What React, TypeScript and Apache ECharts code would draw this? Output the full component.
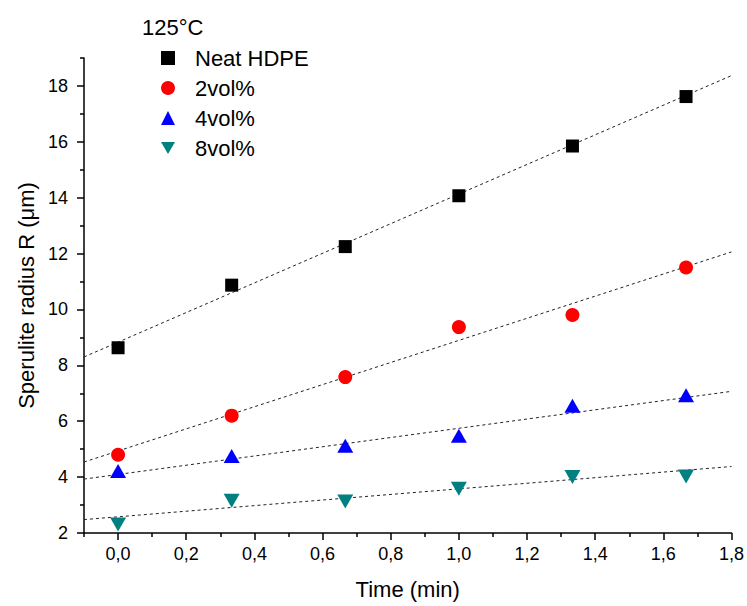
import React, { useEffect, useRef } from "react";
import * as echarts from "echarts";

const timeMin = [0, 1 / 3, 2 / 3, 1, 4 / 3, 5 / 3];
const seriesNames = ["Neat HDPE", "2vol%", "4vol%", "8vol%"];
const neatHDPE = [8.63, 10.87, 12.25, 14.07, 15.85, 17.62];
const vol2 = [4.8, 6.2, 7.58, 9.37, 9.8, 11.5];
const vol4 = [4.22, 4.76, 5.12, 5.48, 6.55, 6.93];
const vol8 = [2.3, 3.15, 3.13, 3.58, 4.0, 4.02];
// fitted lines read at x = -0.1 and x = 1.8
const fitX = [-0.1, 1.8];
const fitNeat = [8.3, 18.37];
const fit2 = [4.54, 12.06];
const fit4 = [3.93, 7.07];
const fit8 = [2.48, 4.38];
const xMajorTicks = [0, 0.2, 0.4, 0.6, 0.8, 1.0, 1.2, 1.4, 1.6, 1.8];
const xMinorTicks = [-0.1, 0.1, 0.3, 0.5, 0.7, 0.9, 1.1, 1.3, 1.5, 1.7];
const yMajorTicks = [2, 4, 6, 8, 10, 12, 14, 16, 18];
const yMinorTicks = [3, 5, 7, 9, 11, 13, 15, 17, 19];

const FONT = "'Liberation Sans', Arial, sans-serif";
const colors = ["#000000", "#ff0000", "#0000ff", "#008080"];
const symbols = ["rect", "circle", "triangle", "path://M0,0 L10,0 L5,8.7 Z"];
const symbolSizes: any[] = [13, 14, [16, 14], [16, 14]];

export default function App() {
  const ref = useRef<HTMLDivElement>(null);
  useEffect(() => {
    if (!ref.current) return;
    const chart = echarts.init(ref.current, null, { renderer: "svg" });
    const values = [neatHDPE, vol2, vol4, vol8];
    const fits = [fitNeat, fit2, fit4, fit8];
    const scatterSeries = seriesNames.map((name, i) => ({
      name,
      type: "scatter",
      xAxisIndex: 0,
      yAxisIndex: 0,
      symbol: symbols[i],
      symbolSize: symbolSizes[i],
      itemStyle: { color: colors[i], opacity: 1 },
      data: timeMin.map((t, j) => [t, values[i][j]]),
      z: 5,
    }));
    const fitSeries = fits.map((f, i) => ({
      name: "fit" + i,
      type: "line",
      xAxisIndex: 0,
      yAxisIndex: 0,
      showSymbol: false,
      symbol: "none",
      silent: true,
      lineStyle: { color: "#222", width: 1, type: [3, 3] },
      data: fitX.map((x, j) => [x, f[j]]),
      z: 2,
    }));
    const axisLineStyle = { color: "#000", width: 1.5 };
    chart.setOption({
      animation: false,
      backgroundColor: "#fff",
      textStyle: { fontFamily: FONT },
      title: {
        text: "125°C",
        left: 137,
        top: 11,
        textStyle: { fontFamily: FONT, fontSize: 22, fontWeight: "normal", color: "#000" },
      },
      legend: {
        orient: "vertical",
        left: 156,
        top: 41,
        itemWidth: 14,
        itemHeight: 14,
        itemGap: 6,
        data: seriesNames,
        itemStyle: { opacity: 1 },
        textStyle: { fontFamily: FONT, fontSize: 22, color: "#000", lineHeight: 24, padding: [0, 0, 0, 15] },
      },
      grid: { left: 84, right: 14, top: 58, bottom: 73, containLabel: false },
      xAxis: [
        {
          type: "value",
          min: -0.1,
          max: 1.8,
          name: "Time (min)",
          nameLocation: "middle",
          nameGap: 45,
          nameTextStyle: { fontFamily: FONT, fontSize: 22, color: "#000" },
          axisLine: { show: true, onZero: false, lineStyle: axisLineStyle },
          axisTick: { show: true, inside: false, length: 7, customValues: xMajorTicks, lineStyle: axisLineStyle },
          axisLabel: {
            customValues: xMajorTicks,
            margin: 12,
            fontFamily: FONT,
            fontSize: 18,
            color: "#000",
            formatter: (v: number) => v.toFixed(1).replace(".", ","),
          },
          splitLine: { show: false },
        },
        {
          type: "value",
          min: -0.1,
          max: 1.8,
          position: "bottom",
          axisLine: { show: false, onZero: false },
          axisTick: { show: true, inside: false, length: 4, customValues: xMinorTicks, lineStyle: axisLineStyle },
          axisLabel: { show: false },
          splitLine: { show: false },
        },
      ],
      yAxis: [
        {
          type: "value",
          min: 2,
          max: 19,
          name: "Sperulite radius R (\u03bcm)",
          nameLocation: "middle",
          nameGap: 47,
          nameRotate: 90,
          nameTextStyle: { fontFamily: FONT, fontSize: 22, color: "#000" },
          axisLine: { show: true, onZero: false, lineStyle: axisLineStyle },
          axisTick: { show: true, inside: false, length: 7, customValues: yMajorTicks, lineStyle: axisLineStyle },
          axisLabel: {
            customValues: yMajorTicks,
            margin: 16,
            fontFamily: FONT,
            fontSize: 18,
            color: "#000",
          },
          splitLine: { show: false },
        },
        {
          type: "value",
          min: 2,
          max: 19,
          position: "left",
          axisLine: { show: false, onZero: false },
          axisTick: { show: true, inside: false, length: 4, customValues: yMinorTicks, lineStyle: axisLineStyle },
          axisLabel: { show: false },
          splitLine: { show: false },
        },
      ],
      series: [...fitSeries, ...scatterSeries],
    });
    return () => chart.dispose();
  }, []);
  return (
    <div
      ref={ref}
      style={{ position: "fixed", left: 0, top: 0, width: 747, height: 606, background: "#fff" }}
    />
  );
}
